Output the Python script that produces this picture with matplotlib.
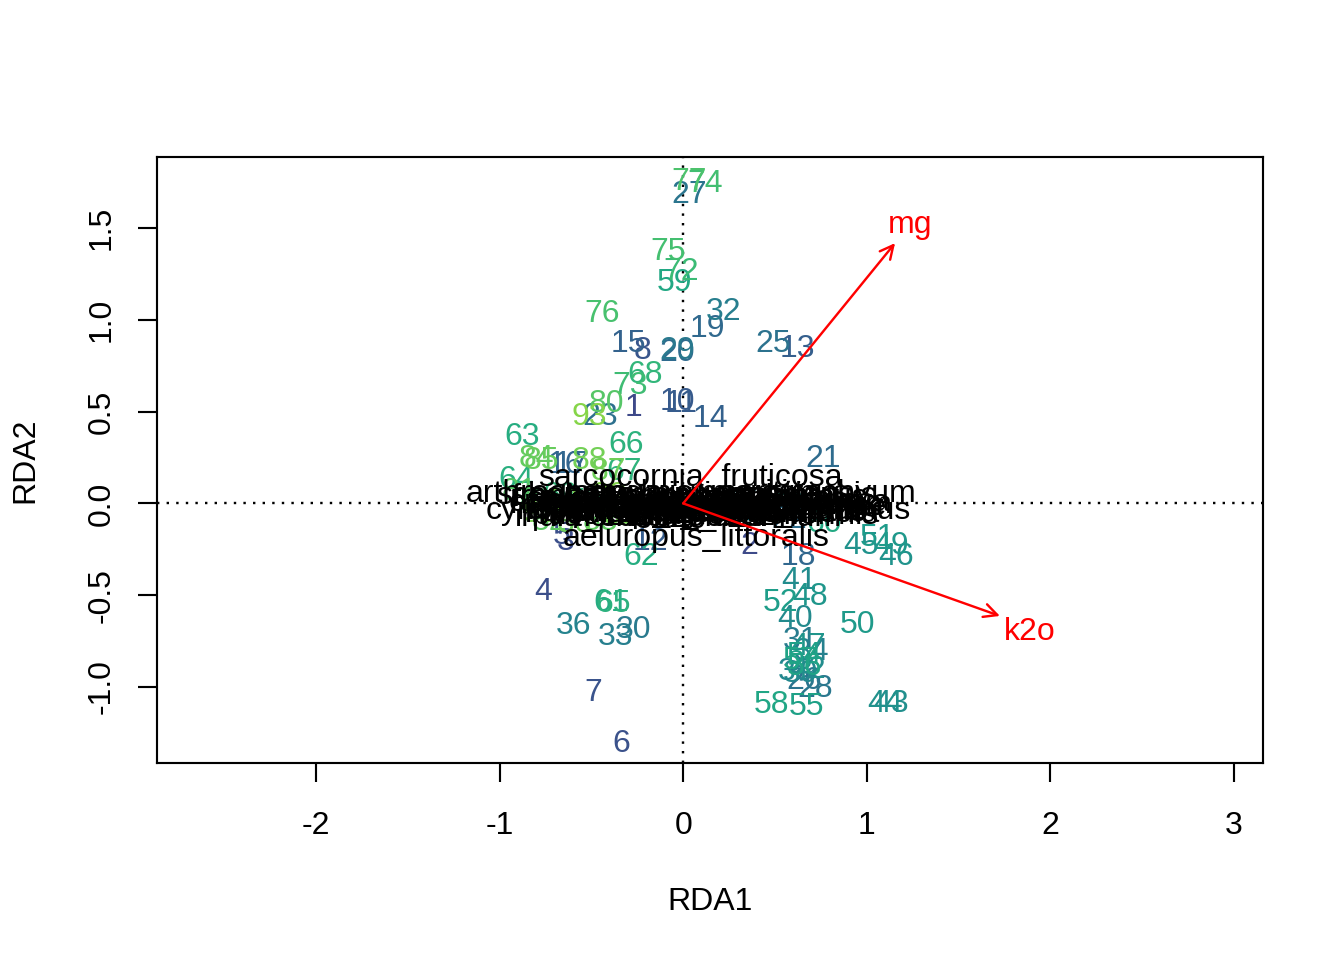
import numpy as np
import matplotlib
matplotlib.use("Agg")
import matplotlib.pyplot as plt

plt.rcParams["font.family"] = ["Liberation Sans", "DejaVu Sans"]
plt.rcParams["axes.unicode_minus"] = False

# Puntuaciones de los sitios (RDA1, RDA2)
site_ids = list(range(1, 94))
site_x = [-0.27, 0.36, -0.64, -0.76, -0.66, -0.34, -0.49, -0.22, -0.56, -0.03,
          -0.01, -0.18, 0.62, 0.15, -0.30, -0.64, -0.61, 0.63, 0.13, -0.03,
          0.76, 0.58, -0.45, 0.20, 0.49, 0.66, 0.03, 0.72, -0.03, -0.27,
          0.64, 0.22, -0.37, 0.70, 0.42, -0.60, 0.31, 0.61, 0.64, 0.61,
          0.63, 0.68, 1.13, 1.10, 0.97, 1.16, 0.68, 0.69, 1.13, 0.95,
          1.06, 0.53, 0.58, 0.66, 0.67, 0.66, 0.64, 0.48, -0.05, 0.77,
          -0.39, -0.23, -0.88, -0.91, -0.38, -0.31, -0.32, -0.21, -0.67, -0.54,
          -0.45, -0.01, -0.29, 0.12, -0.08, -0.44, 0.03, -0.83, -0.75, -0.42,
          -0.89, -0.73, -0.45, -0.80, -0.77, -0.59, -0.41, -0.51, -0.34, -0.78,
          -0.64, -0.40, -0.51]
site_y = [0.52, -0.23, -0.21, -0.48, -0.18, -1.31, -1.03, 0.83, -0.05, 0.55,
          0.54, -0.21, 0.84, 0.46, 0.87, 0.21, 0.21, -0.29, 0.95, 0.82,
          0.24, -0.09, 0.47, -0.02, 0.87, -0.97, 1.68, -1.01, 0.83, -0.69,
          -0.75, 1.04, -0.73, -0.81, -0.05, -0.67, 0.01, -0.92, -0.93, -0.63,
          -0.42, -0.91, -1.09, -1.09, -0.23, -0.29, -0.78, -0.51, -0.23, -0.66,
          -0.19, -0.54, -0.02, -0.83, -1.11, -0.89, -0.86, -1.10, 1.20, -0.11,
          -0.54, -0.29, 0.36, 0.13, -0.55, 0.32, 0.17, 0.70, 0.04, 0.01,
          -0.02, 1.26, 0.64, 1.74, 1.37, 1.03, 1.75, 0.01, -0.02, 0.54,
          0.06, -0.10, -0.10, 0.24, 0.23, -0.11, 0.17, 0.23, -0.07, -0.06,
          0.01, 0.04, 0.47]

# Puntuaciones de las especies
species = ["sarcocornia_fruticosa", "suaeda_vera", "limonium_narbonense",
           "halimione_portulacoides", "atriplex_prostrata", "spergularia_media",
           "salicornia_patula", "phragmites_australis", "plantago_crassifolia",
           "frankenia_pulverulenta", "parapholis_incurva", "halocnemum_strobilaceum",
           "sonchus_maritimus", "elymus_elongatus", "puccinellia_festuciformis",
           "juncus_acutus", "limonium_delicatulum", "tamarix_canariensis",
           "schoenus_nigricans", "spartina_densiflora", "polypogon_maritimus",
           "crypsis_aculeata", "lygeum_spartum", "artemisia_gallica",
           "arthrocnemum_macrostachyum", "cynodon_dactylon", "juncus_maritimus",
           "inula_crithmoides", "hordeum_marinum", "aeluropus_littoralis"]
sp_x = [0.04, 0.30, 0.25, 0.10, -0.10, 0.35, -0.20, 0.20, 0.05, -0.05,
        0.40, 0.10, 0.15, -0.15, 0.12, 0.45, -0.02, 0.28, -0.25, 0.00,
        0.18, -0.30, 0.32, -0.12, 0.04, -0.37, 0.56, -0.24, 0.13, 0.07]
sp_y = [0.14, 0.02, -0.02, 0.01, -0.01, -0.06, 0.02, -0.05, -0.03, 0.03,
        0.00, -0.01, 0.05, -0.04, -0.07, -0.04, -0.06, 0.04, 0.04, -0.02,
        0.03, 0.00, -0.04, -0.05, 0.05, -0.04, -0.04, -0.08, -0.08, -0.19]

# Variables ambientales (biplot)
env_names = ["mg", "k2o"]
env_x = [1.154, 1.725]
env_y = [1.418, -0.613]
env_lab_x = [1.235, 1.889]
env_lab_y = [1.516, -0.699]

fig = plt.figure(figsize=(7, 5), dpi=192)
ax = fig.add_axes([157 / 1344, 197 / 960, 1106 / 1344, 606 / 960])
ax.set_xlim(-2.866, 3.158)
ax.set_ylim(-1.414, 1.887)

ax.axhline(0, color="black", ls=(0, (1, 3)), lw=0.9, zorder=1)
ax.axvline(0, color="black", ls=(0, (1, 3)), lw=0.9, zorder=1)

cmap = plt.get_cmap("viridis")
for i, x, y in zip(site_ids, site_x, site_y):
    col = cmap(0.22 + 0.60 * (i - 1) / 92)
    ax.text(x, y, str(i), color=col, fontsize=12, ha="center", va="center", zorder=2)

for name, x, y in zip(species, sp_x, sp_y):
    ax.text(x, y, name, color="black", fontsize=12, ha="center", va="center", zorder=3)

for name, x, y, lx, ly in zip(env_names, env_x, env_y, env_lab_x, env_lab_y):
    ax.annotate("", xy=(x, y), xytext=(0, 0),
                arrowprops=dict(arrowstyle="->,head_length=0.5,head_width=0.25",
                                color="red", lw=0.9, shrinkA=0, shrinkB=0,
                                mutation_scale=10), zorder=4)
    ax.text(lx, ly, name, color="red", fontsize=12, ha="center", va="center", zorder=4)

ax.set_xticks([-2, -1, 0, 1, 2, 3])
ax.set_xticklabels(["-2", "-1", "0", "1", "2", "3"])
ax.set_yticks([-1.0, -0.5, 0.0, 0.5, 1.0, 1.5])
ax.set_yticklabels(["-1.0", "-0.5", "0.0", "0.5", "1.0", "1.5"], rotation=90, va="center")
ax.tick_params(length=7, width=0.8, labelsize=12)
ax.tick_params(axis="x", pad=11)
ax.tick_params(axis="y", pad=8)
for s in ax.spines.values():
    s.set_linewidth(0.8)

fig.text(710 / 1344, 1 - 902 / 960, "RDA1", ha="center", va="center", fontsize=12)
fig.text(25 / 1344, 1 - 460 / 960, "RDA2", ha="center", va="center", fontsize=12, rotation=90)

fig.savefig("out.png", dpi=192)
